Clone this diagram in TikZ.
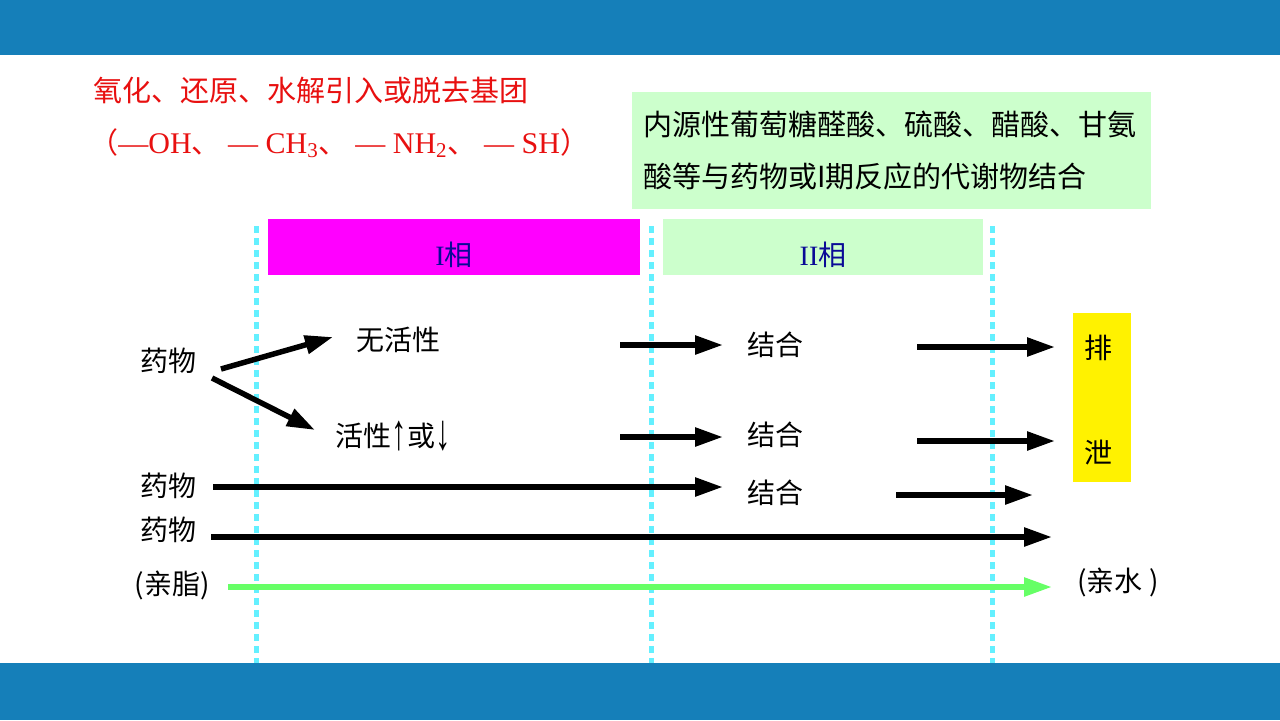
\documentclass[tikz,border=0pt]{standalone}
\usepackage{fontspec}
\setmainfont{Noto Sans CJK SC}
\newfontfamily\tmr{Liberation Serif}
\newfontfamily\arl{Liberation Sans}
\usepackage{tikz}
\usetikzlibrary{arrows.meta,positioning}
\definecolor{barblue}{RGB}{21,127,185}
\definecolor{hired}{RGB}{232,16,16}
\definecolor{palegreen}{RGB}{204,255,204}
\definecolor{phaseone}{RGB}{255,0,255}
\definecolor{guidecyan}{RGB}{100,240,255}
\definecolor{lipogreen}{RGB}{102,255,102}
\definecolor{phasenavy}{RGB}{10,10,150}
\newcommand{\tallarr}[1]{\raisebox{-0.1em}{\scalebox{1.1}[1.8]{\arl #1}}}

\begin{document}
\begin{tikzpicture}[x=0.5pt,y=-0.5pt,
  txt/.style={inner sep=0pt,font=\fontsize{14}{16}\selectfont},
  redtxt/.style={inner sep=0pt,anchor=west,text=hired,font=\fontsize{14.5}{17}\selectfont},
  phase/.style={minimum height=28pt,inner sep=0pt},
  guide/.style={draw=guidecyan,line width=2.5pt,dash pattern=on 3.5pt off 2.5pt},
  arr/.style={line width=2.75pt,-{Triangle[length=14pt,width=9pt]}}]
  \useasboundingbox (0,0) rectangle (1280,720);
  \fill[white] (0,0) rectangle (1280,720);
  \fill[barblue] (0,0) rectangle (1280,55);
  \fill[barblue] (0,663) rectangle (1280,720);

  % phase I reactions
  \node[redtxt] (redo) at (93,90) {氧化、还原、水解引入或脱去基团};
  \node[redtxt] (grp) at (89,143) {（{\tmr\fontsize{15}{17}\selectfont —OH}、{\tmr\fontsize{15}{17}\selectfont\ — CH\textsubscript{3}}、{\tmr\fontsize{15}{17}\selectfont\ — NH\textsubscript{2}}、{\tmr\fontsize{15}{17}\selectfont\ — SH}）};
  % phase II reactions
  \node[fill=palegreen,minimum width=259.5pt,minimum height=58.5pt,inner xsep=5.5pt,
    text width=248.5pt,align=left,font=\fontsize{14.5}{26}\selectfont] (conjnote) at (891.5,150.5)
    {内源性葡萄糖醛酸、硫酸、醋酸、甘氨\\酸等与药物或I期反应的代谢物结合};

  % phase headers
  \node[phase,fill=phaseone,minimum width=186pt] (ph1) at (454,247) {};
  \node[phase,fill=palegreen,minimum width=160pt] (ph2) at (823,247) {};
  \node[txt,text=phasenavy] (ph1lbl) at (454,255) {{\tmr I}相};
  \node[txt,text=phasenavy] (ph2lbl) at (823,255) {{\tmr II}相};

  % guide lines
  \foreach \gx/\gname in {256/g1,651/g2,992/g3} {
    \coordinate (\gname t) at (\gx,226);
    \coordinate (\gname b) at (\gx,663);
    \draw[guide] (\gname t) -- (\gname b);
  }

  % excretion
  \node[fill=yellow,minimum width=29pt,minimum height=84.5pt,inner sep=0pt] (excr) at (1102,397.5) {};
  \node[txt] (excr1) at (1098,348) {排};
  \node[txt] (excr2) at (1098,453) {泄};

  % labels
  \node[txt] (drug1) at (168,361) {药物};
  \node[txt] (inact) at (398,340) {无活性};
  \node[txt] (act) at (393,436) {活性\tallarr{↑}或\tallarr{↓}};
  \node[txt] (conj1) at (775,345) {结合};
  \node[txt] (conj2) at (775,435) {结合};
  \node[txt] (conj3) at (775,493) {结合};
  \node[txt] (drug2) at (168,486) {药物};
  \node[txt] (drug3) at (168,530) {药物};
  \node[txt] (lipo) at (172,585) {(亲脂)};
  \node[txt] (hydro) at (1118,582) {(亲水 )};

  % arrow ends
  \coordinate (a1s) at (221,369);  \coordinate (a1e) at (333,337);
  \coordinate (a2s) at (212,378);  \coordinate (a2e) at (315,430);
  \coordinate (b1s) at (620,345);  \coordinate (b1e) at (723,345);
  \coordinate (b2s) at (620,437);  \coordinate (b2e) at (723,437);
  \coordinate (c1s) at (917,347);  \coordinate (c1e) at (1055,347);
  \coordinate (c2s) at (917,441);  \coordinate (c2e) at (1055,441);
  \coordinate (d1s) at (213,487);  \coordinate (d1e) at (723,487);
  \coordinate (c3s) at (896,495);  \coordinate (c3e) at (1033,495);
  \coordinate (d2s) at (211,537);  \coordinate (d2e) at (1052,537);
  \coordinate (gs) at (228,587);   \coordinate (ge) at (1052,587);

  \path[arr]
  (a1s) edge (a1e)
  (a2s) edge (a2e)
  (b1s) edge (b1e)
  (b2s) edge (b2e)
  (c1s) edge (c1e)
  (c2s) edge (c2e)
  (d1s) edge (d1e)
  (c3s) edge (c3e)
  (d2s) edge (d2e)
  ;
  \path[arr,color=lipogreen] (gs) edge (ge);
\end{tikzpicture}
\end{document}
